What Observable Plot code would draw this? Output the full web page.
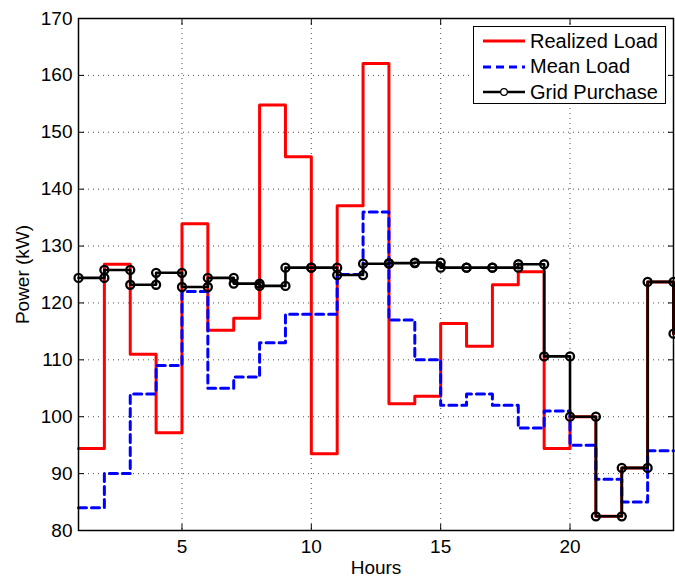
<!DOCTYPE html>
<html>
<head>
<meta charset="utf-8">
<script src="https://cdn.jsdelivr.net/npm/d3@7"></script>
<script src="https://cdn.jsdelivr.net/npm/@observablehq/plot@0.6"></script>
<style>
  html, body { margin: 0; padding: 0; background: #fff; }
  #wrap { position: relative; width: 675px; height: 581px; overflow: hidden; font-family: "Liberation Sans", Arial, Helvetica, sans-serif; }
  #legend { position: absolute; left: 473px; top: 26px; width: 191px; height: 76px; border: 1.5px solid #000; background: #fff; font-size: 20px; }
  .row { position: absolute; left: 0; height: 22px; display: flex; align-items: center; }
  .row svg { margin-left: 8px; margin-right: 4px; }
</style>
</head>
<body>
<div id="wrap">
  <div id="chart"></div>
  <div id="legend"></div>
</div>
<script>
const hours = [1,2,3,4,5,6,7,8,9,10,11,12,13,14,15,16,17,18,19,20,21,22,23,24];
const realizedLoad = [94.4,126.8,111.0,97.2,133.9,115.2,117.3,154.8,145.7,93.5,137.1,162.1,102.3,103.6,116.4,112.4,123.2,125.5,94.4,100.0,82.5,91.0,123.7,114.6];
const meanLoad = [84,90,104,109,122,105,107,113,118,118,125,136,117,110,102,104,102,98,101,95,89,85,94,94];
const gridPurchase = [124.4,125.8,123.2,125.3,122.8,124.4,123.4,123.0,126.2,126.2,124.9,126.9,127.0,127.1,126.2,126.2,126.2,126.8,110.6,100.0,82.5,91.0,123.7,114.6];
const xTicks = [5,10,15,20];
const yTicks = [80,90,100,110,120,130,140,150,160,170];

const series = (vals) => hours.map((h, i) => ({x: h, y: vals[i]}));
const gridVerts = [];
hours.forEach((h, i) => {
  if (i > 0) gridVerts.push({x: h, y: gridPurchase[i - 1]});
  gridVerts.push({x: h, y: gridPurchase[i]});
});

const font = '"Liberation Sans", Arial, Helvetica, sans-serif';
const chart = Plot.plot({
  width: 675,
  height: 581,
  marginLeft: 78,
  marginRight: 2,
  marginTop: 18,
  marginBottom: 51,
  style: {fontFamily: font, fontSize: "19px", color: "#000", background: "#fff"},
  x: {domain: [1, 24]},
  y: {domain: [80, 170]},
  marks: [
    Plot.gridX(xTicks, {stroke: "#000", strokeOpacity: 0.7, strokeDasharray: "1,4"}),
    Plot.gridY(yTicks, {stroke: "#000", strokeOpacity: 0.7, strokeDasharray: "1,4"}),
    Plot.line(series(realizedLoad), {x: "x", y: "y", curve: "step-after", stroke: "#ff0000", strokeWidth: 3}),
    Plot.line(series(meanLoad), {x: "x", y: "y", curve: "step-after", stroke: "#0000ff", strokeWidth: 3, strokeDasharray: "8,5"}),
    Plot.line(series(gridPurchase), {x: "x", y: "y", curve: "step-after", stroke: "#000", strokeWidth: 2.6}),
    Plot.dot(gridVerts, {x: "x", y: "y", r: 4, stroke: "#000", strokeWidth: 2.3, fill: "none"}),
    Plot.axisX(xTicks, {anchor: "bottom", tickSize: 0, tickPadding: 9, label: "Hours", labelAnchor: "center", labelArrow: "none", labelOffset: 43, fontSize: 19}),
    Plot.axisY(yTicks, {anchor: "left", tickSize: 0, tickPadding: 6, label: "Power (kW)", labelAnchor: "center", labelArrow: "none", labelOffset: 63, fontSize: 19}),
    Plot.axisX(xTicks, {anchor: "bottom", tickSize: -6, text: null, label: null}),
    Plot.axisX(xTicks, {anchor: "top", tickSize: -6, text: null, label: null}),
    Plot.axisY(yTicks, {anchor: "left", tickSize: -6, text: null, label: null}),
    Plot.axisY(yTicks, {anchor: "right", tickSize: -6, text: null, label: null}),
    Plot.frame({stroke: "#000", strokeWidth: 1.5})
  ]
});
document.getElementById("chart").appendChild(chart);

const legendItems = [
  {label: "Realized Load", color: "#ff0000", dash: null, marker: false, width: 3},
  {label: "Mean Load", color: "#0000ff", dash: "8,5", marker: false, width: 3},
  {label: "Grid Purchase", color: "#000", dash: null, marker: true, width: 2.4}
];
const legend = document.getElementById("legend");
legendItems.forEach((it, i) => {
  const row = document.createElement("div");
  row.className = "row";
  row.style.top = (3 + i * 25.5) + "px";
  row.innerHTML = `<svg width="44" height="12"><line x1="1" x2="43" y1="6" y2="6" stroke="${it.color}" stroke-width="${it.width}" ${it.dash ? `stroke-dasharray="${it.dash}"` : ""}/>${it.marker ? `<circle cx="22" cy="6" r="3.3" fill="#fff" stroke="#000" stroke-width="1.2"/>` : ""}</svg><span>${it.label}</span>`;
  legend.appendChild(row);
});
</script>
</body>
</html>
